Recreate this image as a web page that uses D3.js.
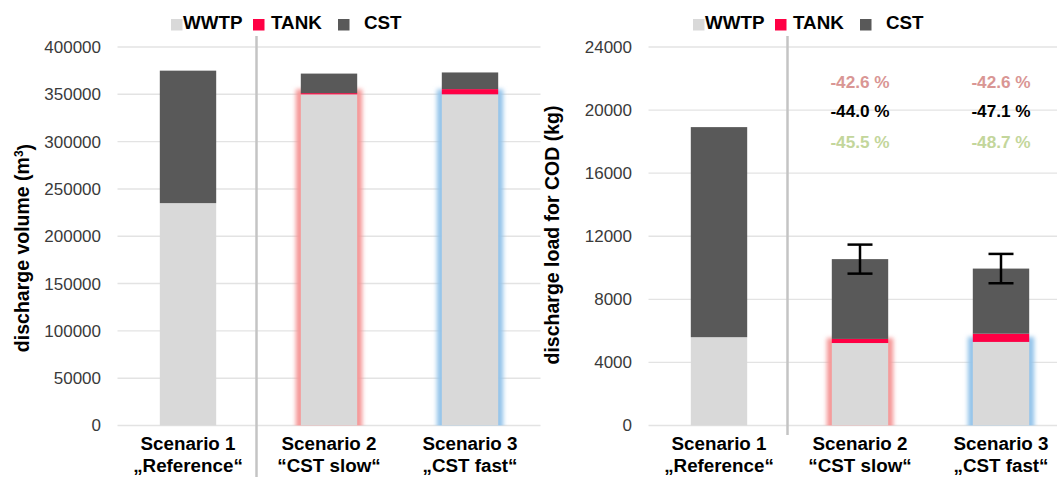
<!DOCTYPE html>
<html>
<head>
<meta charset="utf-8">
<script src="https://cdn.jsdelivr.net/npm/d3@7"></script>
<style>
  html, body { margin: 0; padding: 0; background: #fff; }
  svg { display: block; font-family: "Liberation Sans", Arial, sans-serif; }
</style>
</head>
<body>
<svg id="chart" width="1057" height="479"></svg>
<script>
// Scenario categories and their two-line captions
const scenarios = ["Scenario 1", "Scenario 2", "Scenario 3"];
const scenarioNames = ["\u201EReference\u201C", "\u201CCST slow\u201C", "\u201ECST fast\u201C"];

// Series names and colours for the stacked parts
const series = ["WWTP", "TANK", "CST"];
const seriesColors = ["#d9d9d9", "#ff0044", "#595959"];

// Discharge volume (m³) per scenario
const volWWTP = [235000, 350000, 350000];
const volTANK = [0, 1200, 5500];
const volCST = [140000, 20700, 17600];

// Discharge load for COD (kg) per scenario
const codWWTP = [5600, 5230, 5300];
const codTANK = [0, 260, 520];
const codCST = [13320, 5060, 4130];
const codErr = [0, 920, 930];

// Axis ticks
const volTicks = [0, 50000, 100000, 150000, 200000, 250000, 300000, 350000, 400000];
const codTicks = [0, 4000, 8000, 12000, 16000, 20000, 24000];

// Reduction percentages printed above the COD bars (three rows)
const pctSlow = ["-42.6 %", "-44.0 %", "-45.5 %"];
const pctFast = ["-42.6 %", "-47.1 %", "-48.7 %"];
const pctColors = ["#d99694", "#000000", "#c3d69b"];

// Glow colour round the WWTP part of each scenario bar
const glowColors = [null, "#f59797", "#94c4ea"];

const svg = d3.select("#chart");
const FONT = "'Liberation Sans', Arial, sans-serif";

const defs = svg.append("defs");
defs.append("filter").attr("id", "glow")
  .attr("x", "-50%").attr("y", "-50%").attr("width", "200%").attr("height", "200%")
  .append("feGaussianBlur").attr("stdDeviation", 2.2);

function drawPanel(opt) {
  const g = svg.append("g");
  const x = d3.scaleBand().domain(scenarios).range(opt.xRange).padding(0);
  const y = d3.scaleLinear().domain([0, opt.ticks[opt.ticks.length - 1]]).range([425.5, 47]);
  const barW = x.bandwidth() * 0.4;
  const cx = d => x(d) + x.bandwidth() / 2;

  // gridlines
  g.append("g").selectAll("line").data(opt.ticks).join("line")
    .attr("x1", opt.xRange[0]).attr("x2", opt.xRange[1])
    .attr("y1", d => y(d)).attr("y2", d => y(d))
    .attr("stroke", "#e3e3e3").attr("stroke-width", 1.4);

  // y axis labels
  const yAxis = d3.axisLeft(y).tickValues(opt.ticks).tickSize(0).tickPadding(0).tickFormat(d3.format("d"));
  const ya = g.append("g").attr("transform", `translate(${opt.xRange[0] - 16.5},0)`).call(yAxis);
  ya.select(".domain").remove();
  ya.selectAll("text").attr("font-family", FONT).attr("font-size", 17).attr("fill", "#3a3a3a");

  // y axis title
  const yt = g.append("text")
    .attr("transform", `translate(${opt.titleX},${opt.titleY}) rotate(-90)`)
    .attr("text-anchor", "middle").attr("dy", "0.35em")
    .attr("font-family", FONT).attr("font-size", 19.5).attr("font-weight", "bold").attr("fill", "#000");
  opt.title(yt);

  // separator between reference and scenarios
  const sepX = x(scenarios[1]) - 2;
  g.append("line").attr("x1", sepX).attr("x2", sepX)
    .attr("y1", 36).attr("y2", opt.sepBottom)
    .attr("stroke", "#c4c4c4").attr("stroke-width", 2.5);

  // stacked data
  const rows = scenarios.map((s, i) => ({ scen: s, WWTP: opt.wwtp[i], TANK: opt.tank[i], CST: opt.cst[i] }));
  const stacked = d3.stack().keys(series)(rows);

  // glow behind WWTP segment
  const clipId = "clip" + opt.id;
  defs.append("clipPath").attr("id", clipId).append("rect")
    .attr("x", opt.xRange[0]).attr("y", 0).attr("width", opt.xRange[1] - opt.xRange[0]).attr("height", y(0));
  g.append("g").attr("clip-path", `url(#${clipId})`)
    .selectAll("rect").data(rows.filter((d, i) => glowColors[i])).join("rect")
    .attr("x", d => cx(d.scen) - barW / 2).attr("width", barW)
    .attr("y", d => y(d.WWTP)).attr("height", d => y(0) - y(d.WWTP))
    .attr("fill", "none")
    .attr("stroke", d => glowColors[scenarios.indexOf(d.scen)])
    .attr("stroke-width", 10).attr("filter", "url(#glow)");

  // bars
  g.append("g").selectAll("g").data(stacked).join("g")
    .attr("fill", (d, i) => seriesColors[i])
    .selectAll("rect").data(d => d).join("rect")
    .attr("x", d => cx(d.data.scen) - barW / 2).attr("width", barW)
    .attr("y", d => y(d[1])).attr("height", d => Math.max(0, y(d[0]) - y(d[1])));

  // error bars
  if (opt.err) {
    rows.forEach((d, i) => {
      if (!opt.err[i]) return;
      const tot = d.WWTP + d.TANK + d.CST;
      const c = cx(d.scen);
      const eg = g.append("g").attr("stroke", "#000").attr("stroke-width", 2.5);
      eg.append("line").attr("x1", c).attr("x2", c).attr("y1", y(tot + opt.err[i])).attr("y2", y(tot - opt.err[i]));
      [tot + opt.err[i], tot - opt.err[i]].forEach(v =>
        eg.append("line").attr("x1", c - 12.5).attr("x2", c + 12.5).attr("y1", y(v)).attr("y2", y(v)));
    });
  }

  // x labels
  const xl = g.append("g").selectAll("text").data(scenarios).join("text")
    .attr("x", d => cx(d)).attr("text-anchor", "middle")
    .attr("font-family", FONT).attr("font-size", 18.8).attr("font-weight", "bold").attr("fill", "#000");
  xl.append("tspan").attr("x", d => cx(d)).attr("y", 450).text(d => d);
  xl.append("tspan").attr("x", d => cx(d)).attr("y", 472).text((d, i) => scenarioNames[i]);

  // legend
  const lg = g.append("g").attr("transform", `translate(${opt.legendX},0)`)
    .attr("font-family", FONT).attr("font-size", 18.8).attr("font-weight", "bold");
  const sqX = [0, 82, 167];
  const txX = [12, 100, 193];
  series.forEach((s, i) => {
    lg.append("rect").attr("x", sqX[i]).attr("y", 19).attr("width", 11.5).attr("height", 11.5).attr("fill", seriesColors[i]);
    lg.append("text").attr("x", txX[i]).attr("y", 28.5).text(s).attr("fill", "#000");
  });

  return { x, y, cx };
}

// Left panel: discharge volume
drawPanel({
  id: "vol", xRange: [117.5, 540.5], ticks: volTicks,
  wwtp: volWWTP, tank: volTANK, cst: volCST,
  titleX: 22, titleY: 248, sepBottom: 477, legendX: 171,
  title: t => {
    t.append("tspan").text("discharge volume (m");
    t.append("tspan").attr("dy", "-0.45em").attr("font-size", 12).text("3");
    t.append("tspan").attr("dy", "0.45em").text(")");
  }
});

// Right panel: COD load
const right = drawPanel({
  id: "cod", xRange: [648.5, 1071.5], ticks: codTicks,
  wwtp: codWWTP, tank: codTANK, cst: codCST, err: codErr,
  titleX: 552, titleY: 235, sepBottom: 435, legendX: 693,
  title: t => t.text("discharge load for COD (kg)")
});

// Reduction percentages
const pctY = [82, 111, 142];
[[scenarios[1], pctSlow], [scenarios[2], pctFast]].forEach(([s, vals]) => {
  svg.append("g").selectAll("text").data(vals).join("text")
    .attr("x", right.cx(s)).attr("y", (d, i) => pctY[i]).attr("dy", "0.36em")
    .attr("text-anchor", "middle")
    .attr("font-family", FONT).attr("font-size", 17.2).attr("font-weight", "bold")
    .attr("fill", (d, i) => pctColors[i]).text(d => d);
});
</script>
</body>
</html>
